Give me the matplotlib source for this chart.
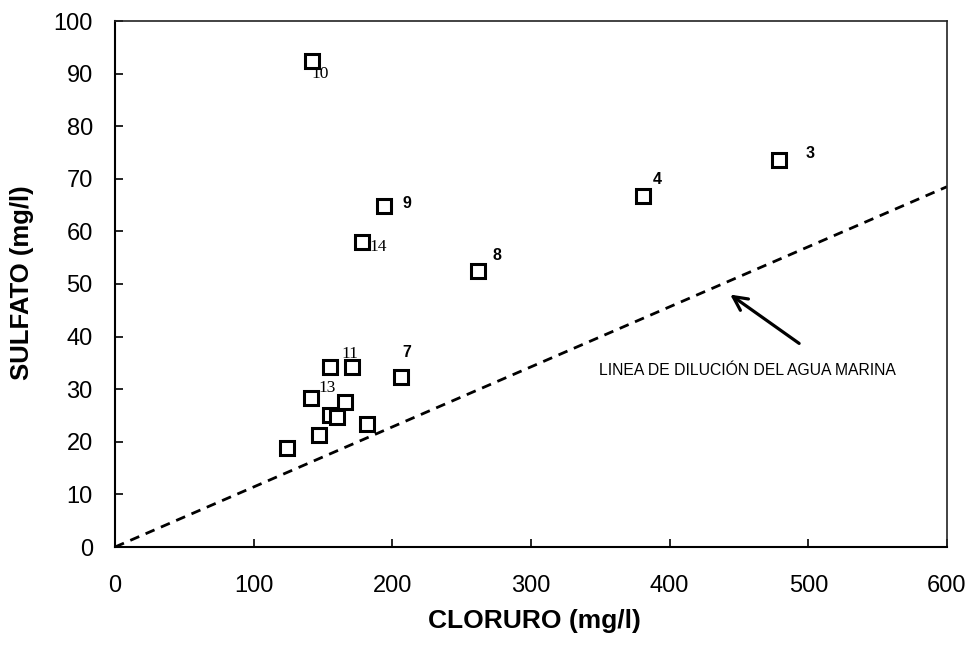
import matplotlib
matplotlib.use("Agg")
import matplotlib.pyplot as plt

# Data
cloruro = [142, 479, 381, 194, 178, 262, 206, 171, 155, 141, 166, 155, 160, 182, 147, 124]
sulfato = [92.4, 73.6, 66.7, 64.8, 58.0, 52.5, 32.3, 34.2, 34.2, 28.3, 27.6, 25.1, 24.7, 23.4, 21.3, 18.8]
etiquetas = ["10", "3", "4", "9", "14", "8", "7", "11", "", "13", "", "", "", "", "", ""]

# Sea-water dilution line
linea_x = [0, 600]
linea_y = [0, 68.5]

x_ticks = [0, 100, 200, 300, 400, 500, 600]
y_ticks = [0, 10, 20, 30, 40, 50, 60, 70, 80, 90, 100]

texto_linea = "LINEA DE DILUCIÓN DEL AGUA MARINA"
flecha_cabeza = (442, 48.3)
flecha_cola = (495, 38.4)
texto_pos = (456, 33.6)

# label offsets in pixels (style/position, not data)
offsets = {"10": (8, -13), "3": (31, 6), "4": (14, 17), "9": (23, 3), "14": (16, -5),
           "8": (19, 15), "7": (6, 25), "11": (-2, 13), "13": (17, 10)}
serif_labels = {"10", "14", "11", "13"}

plt.rcParams['font.family'] = ['Liberation Sans', 'DejaVu Sans']

fig = plt.figure(figsize=(9.73, 6.51), dpi=100)
ax = fig.add_axes([115/973, 1-547/651, (947-115)/973, (547-21)/651])

ax.plot(linea_x, linea_y, linestyle=(0, (3.5, 2.5)), color='black', linewidth=2.0, zorder=2)
ax.plot(cloruro, sulfato, linestyle='none', marker='s', markersize=9.5,
        markerfacecolor='white', markeredgecolor='black', markeredgewidth=2.2, zorder=3)

for x, y, lab in zip(cloruro, sulfato, etiquetas):
    if not lab:
        continue
    dx, dy = offsets[lab]
    if lab in serif_labels:
        fam = ['Liberation Serif', 'DejaVu Serif']
        fs = 12.5
        fw = 'normal'
    else:
        fam = ['Liberation Sans', 'DejaVu Sans']
        fs = 11.5
        fw = 'bold'
    ax.annotate(lab, (x, y), xytext=(dx, dy), textcoords='offset pixels',
                ha='center', va='center', fontsize=fs, family=fam, fontweight=fw)

ax.annotate("", xy=flecha_cabeza, xytext=flecha_cola,
            arrowprops=dict(arrowstyle='->', color='black', linewidth=2.3,
                            mutation_scale=25))
ax.text(texto_pos[0], texto_pos[1], texto_linea, ha='center', va='center', fontsize=11.3)

ax.set_xlim(0, 600)
ax.set_ylim(0, 100)
ax.set_xticks(x_ticks)
ax.set_yticks(y_ticks)
ax.tick_params(axis='both', direction='in', length=6, width=1.2, labelsize=17)
ax.tick_params(axis='x', pad=20)
ax.tick_params(axis='y', pad=16)

for s in ['left', 'bottom']:
    ax.spines[s].set_linewidth(1.5)
    ax.spines[s].set_color('black')
for s in ['top', 'right']:
    ax.spines[s].set_linewidth(1.2)
    ax.spines[s].set_color('#222222')

fig.text(534/973, 1-621/651, "CLORURO (mg/l)", ha='center', va='center',
         fontsize=19, fontweight='bold')
fig.text(22/973, 1-283/651, "SULFATO (mg/l)", ha='center', va='center',
         fontsize=18.5, fontweight='bold', rotation=90)

fig.savefig("out.png", dpi=100)
